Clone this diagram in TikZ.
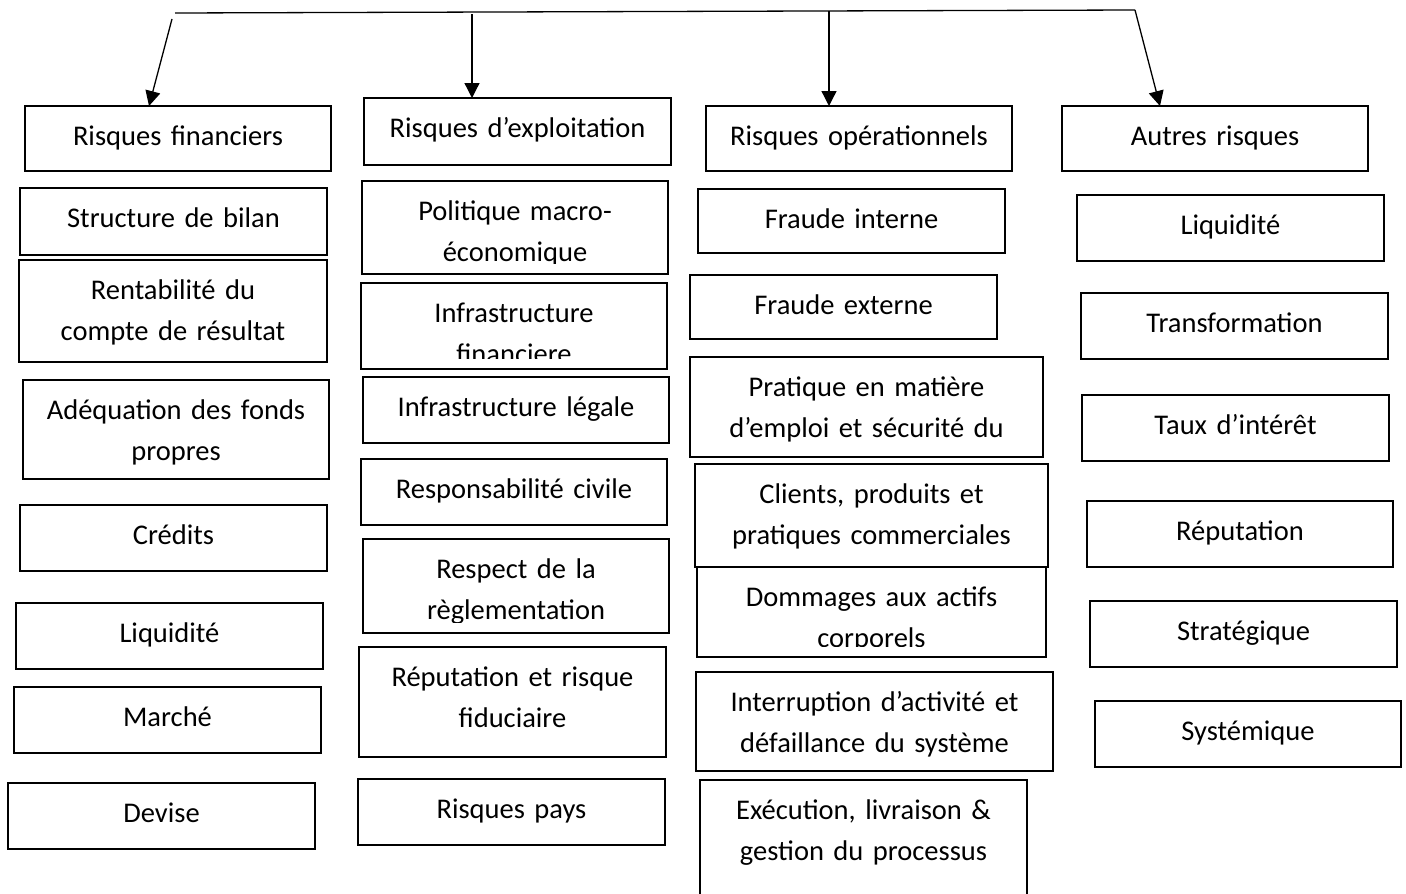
\documentclass[tikz,border=0pt]{standalone}
\usepackage{fontspec}
\setmainfont{Carlito}
\usetikzlibrary{arrows.meta,calc}

\tikzset{
  x=1pt, y=-1pt,
  frame/.style={draw=black, line width=2.4pt, inner sep=0pt, outer sep=0pt},
  boxtext/.style={inner sep=0pt, align=center, text=black,
    font=\fontsize{28.5}{41}\selectfont},
  trunk/.style={line width=1.3pt},
  feed/.style={line width=1.3pt, -{Triangle[width=15pt,length=15pt]}}
}

% \riskbox{name}{left}{top}{right}{bottom}{text}
% The frame is a named node; the text hangs from the top and is
% clipped a little above the bottom edge, as in a word-processor text box.
\newcommand\riskbox[6]{%
  \pgfmathsetmacro\rbw{#4-#2}%
  \pgfmathsetmacro\rbh{#5-#3}%
  \pgfmathsetmacro\rbt{#4-#2-6}%
  \node[frame, anchor=north west, minimum width=\rbw pt, minimum height=\rbh pt] (#1) at (#2,#3) {};
  \begin{scope}
    \clip (#2,#3) rectangle (#4,#5-11);
    \node[boxtext, text width=\rbt pt, anchor=base] (#1-text) at ({(#2+#4)/2},#3+39) {#6};
  \end{scope}}

\begin{document}
\begin{tikzpicture}
\useasboundingbox (0,0) rectangle (1406,894);
\fill[white] (0,0) rectangle (1406,894);
\clip (0,0) rectangle (1406,894);

% column 1: financial risks
\riskbox{rf}{25}{106}{331}{171}{Risques financiers}
\riskbox{fa}{20}{188}{327}{255}{Structure de bilan}
\riskbox{fb}{19}{260}{327}{362}{Rentabilité du\\compte de résultat}
\riskbox{fc}{23}{380}{329}{479}{Adéquation des fonds\\propres}
\riskbox{fd}{20}{505}{327}{571}{Crédits}
\riskbox{fe}{16}{603}{323}{669}{Liquidité}
\riskbox{ff}{14}{687}{321}{753}{Marché}
\riskbox{fg}{8}{783}{315}{849}{Devise}

% column 2: operating risks
\riskbox{rexp}{364}{98}{671}{165}{Risques d’exploitation}
\riskbox{ea}{362}{181}{668}{274}{Politique macro-\\économique}
\riskbox{eb}{361}{283}{667}{369}{Infrastructure\\financiere}
\riskbox{ec}{363}{377}{669}{443}{Infrastructure légale}
\riskbox{ed}{361}{459}{667}{525}{Responsabilité civile}
\riskbox{ee}{363}{539}{669}{633}{Respect de la\\règlementation}
\riskbox{ef}{359}{647}{666}{757}{Réputation et risque\\fiduciaire}
\riskbox{eg}{358}{779}{665}{845}{Risques pays}

% column 3: operational risks
\riskbox{rop}{706}{106}{1012}{171}{Risques opérationnels}
\riskbox{oa}{698}{189}{1005}{253}{Fraude interne}
\riskbox{ob}{690}{275}{997}{339}{Fraude externe}
\riskbox{oc}{690}{357}{1043}{457}{Pratique en matière\\d’emploi et sécurité du}
\riskbox{od}{695}{464}{1048}{567}{Clients, produits et\\pratiques commerciales}
\riskbox{oe}{697}{567}{1046}{657}{Dommages aux actifs\\corporels}
\riskbox{of}{696}{672}{1053}{771}{Interruption d’activité et\\défaillance du système}
\riskbox{og}{700}{780}{1027}{910}{Exécution, livraison \&\\gestion du processus}

% column 4: other risks
\riskbox{ar}{1062}{106}{1368}{171}{Autres risques}
\riskbox{aa}{1077}{195}{1384}{261}{Liquidité}
\riskbox{ab}{1081}{293}{1388}{359}{Transformation}
\riskbox{ac}{1082}{395}{1389}{461}{Taux d’intérêt}
\riskbox{ad}{1087}{501}{1393}{567}{Réputation}
\riskbox{ae}{1090}{601}{1397}{667}{Stratégique}
\riskbox{af}{1095}{701}{1401}{767}{Systémique}

% top distribution line and its four branches
\coordinate (tl) at (175,13);
\coordinate (tr) at (1135,10);
\coordinate (s1) at (172,19);
\coordinate (s2) at (472,14);
\coordinate (s3) at (829,11);
\draw[trunk] (tl) -- (tr);
\draw[feed] (s1) -- ($(rf.north west)+(124,0)$);
\draw[feed] (s2) -- ($(rexp.north west)+(108,0)$);
\draw[feed] (s3) -- ($(rop.north west)+(123,0)$);
\draw[feed] (tr) -- ($(ar.north west)+(98,0)$);
\end{tikzpicture}
\end{document}
